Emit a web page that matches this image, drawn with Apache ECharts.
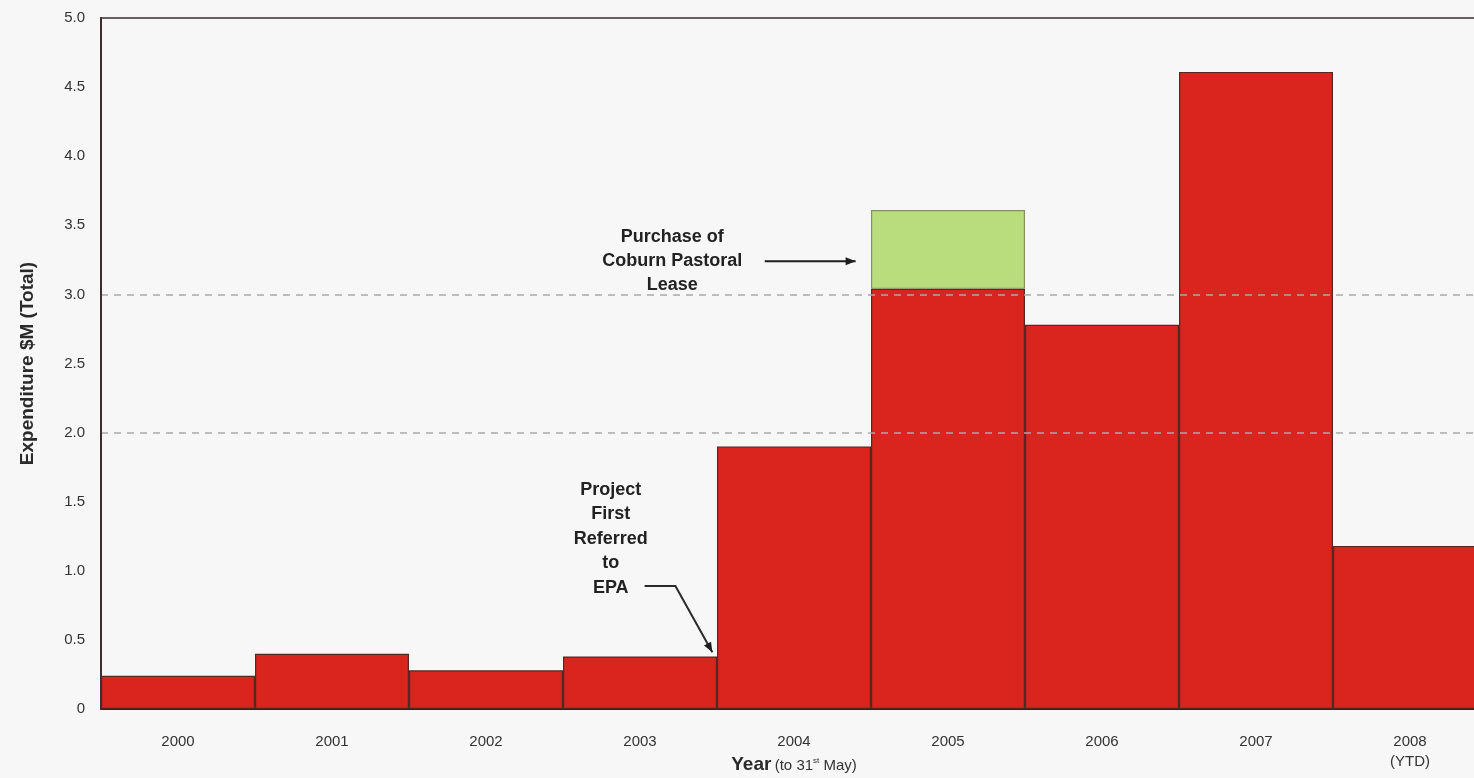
<!DOCTYPE html>
<html>
<head>
<meta charset="utf-8">
<script src="https://cdn.jsdelivr.net/npm/echarts@6/dist/echarts.min.js"></script>
<style>
  html, body { margin: 0; padding: 0; background: #f7f7f7; }
  #chart { width: 1474px; height: 778px; }
</style>
</head>
<body>
<div id="chart"></div>
<script>
// data
const years = ['2000', '2001', '2002', '2003', '2004', '2005', '2006', '2007', '2008\n(YTD)']
const baseSpend = [0.24, 0.40, 0.28, 0.38, 1.90, 3.04, 2.78, 4.61, 1.18]
const leaseSpend = ['-', '-', '-', '-', '-', 0.57, '-', '-', '-']
const yTicks = [0, 0.5, 1.0, 1.5, 2.0, 2.5, 3.0, 3.5, 4.0, 4.5, 5.0]

const chart = echarts.init(document.getElementById('chart'))
const font = 'Liberation Sans, Arial, sans-serif'

// only the 2.0 and 3.0 dashes show clearly on the paper
const splitColors = yTicks.map((t) => (t === 2 || t === 3 ? '#a9a9a9' : 'rgba(0,0,0,0)'))

const option = {
  backgroundColor: '#f7f7f7',
  animation: false,
  grid: {
    left: 101, right: -13, top: 18, bottom: 69,
    outerBoundsMode: 'none', containLabel: false,
    show: true, borderColor: '#3a3030', borderWidth: 1.5, backgroundColor: 'transparent',
  },
  xAxis: {
    type: 'category',
    data: years,
    axisTick: { show: false },
    axisLine: { lineStyle: { color: '#3a1a1a', width: 2 } },
    axisLabel: { color: '#333', fontFamily: font, fontSize: 15, margin: 23, lineHeight: 20 },
    name: '{b|Year} {s|(to 31}{sup|st}{s| May)}',
    nameLocation: 'middle',
    nameGap: 46,
    nameMoveOverlap: false,
    nameTextStyle: {
      rich: {
        b: { fontFamily: font, fontSize: 19, fontWeight: 'bold', color: '#2a2a2a' },
        s: { fontFamily: font, fontSize: 15, color: '#333', padding: [3, 0, 0, 0] },
        sup: { fontFamily: font, fontSize: 8, color: '#333', padding: [0, 0, 8, 0] },
      },
    },
  },
  yAxis: {
    type: 'value',
    min: 0,
    max: 5,
    interval: 0.5,
    z: 5,
    axisLine: { show: true, lineStyle: { color: '#3a3030', width: 2 } },
    axisTick: { show: false },
    axisLabel: {
      color: '#333', fontFamily: font, fontSize: 15, margin: 16,
      formatter: (v) => (v === 0 ? '0' : v.toFixed(1)),
    },
    splitLine: { show: true, lineStyle: { type: [7, 6], width: 1.5, color: splitColors } },
    name: 'Expenditure $M (Total)',
    nameLocation: 'middle',
    nameGap: 64,
    nameTextStyle: { fontFamily: font, fontSize: 19, fontWeight: 'bold', color: '#2a2a2a' },
  },
  series: [
    {
      name: 'Expenditure',
      type: 'bar',
      stack: 'total',
      barWidth: '100%',
      barCategoryGap: 0,
      itemStyle: { color: '#d9251d', borderColor: '#5a2622', borderWidth: 1.2 },
      data: baseSpend,
    },
    {
      name: 'Coburn Pastoral Lease',
      type: 'bar',
      stack: 'total',
      barWidth: '100%',
      itemStyle: { color: '#b9dd7d', borderColor: '#86905f', borderWidth: 1.2 },
      data: leaseSpend,
    },
  ],
}

chart.setOption(option)

// annotation anchors in data space (category index, value)
const toPx = (idx, val) => {
  const a = chart.convertToPixel({ gridIndex: 0 }, [0, val])
  const b = chart.convertToPixel({ gridIndex: 0 }, [1, val])
  return [a[0] + (b[0] - a[0]) * idx, a[1]]
}
const noteFont = 'bold 18px ' + font
const leaseText = toPx(3.21, 3.24)
const leaseA = toPx(3.81, 3.24)
const leaseB = toPx(4.40, 3.24)
const epaText = toPx(2.81, 1.23)
const epaA = toPx(3.03, 0.89)
const epaB = toPx(3.23, 0.89)
const epaC = toPx(3.47, 0.41)

const arrowHead = (from, to) => {
  const ang = Math.atan2(to[1] - from[1], to[0] - from[0])
  const len = 10, w = 4
  return {
    type: 'polygon',
    shape: {
      points: [
        to,
        [to[0] - len * Math.cos(ang) + w * Math.sin(ang), to[1] - len * Math.sin(ang) - w * Math.cos(ang)],
        [to[0] - len * Math.cos(ang) - w * Math.sin(ang), to[1] - len * Math.sin(ang) + w * Math.cos(ang)],
      ],
    },
    style: { fill: '#1e1e1e' },
    z: 20,
  }
}

chart.setOption({
  graphic: [
    {
      type: 'text', x: leaseText[0], y: leaseText[1], z: 20,
      style: { text: 'Purchase of\nCoburn Pastoral\nLease', font: noteFont, fill: '#222', align: 'center', verticalAlign: 'middle', lineHeight: 24 },
    },
    { type: 'polyline', shape: { points: [leaseA, leaseB] }, style: { stroke: '#1e1e1e', lineWidth: 2 }, z: 20 },
    arrowHead(leaseA, leaseB),
    {
      type: 'text', x: epaText[0], y: epaText[1], z: 20,
      style: { text: 'Project\nFirst\nReferred\nto\nEPA', font: noteFont, fill: '#222', align: 'center', verticalAlign: 'middle', lineHeight: 24.5 },
    },
    { type: 'polyline', shape: { points: [epaA, epaB, epaC] }, style: { stroke: '#2a2a2a', lineWidth: 2 }, z: 20 },
    arrowHead(epaB, epaC),
  ],
})

window.addEventListener('resize', () => chart.resize())
</script>
</body>
</html>
